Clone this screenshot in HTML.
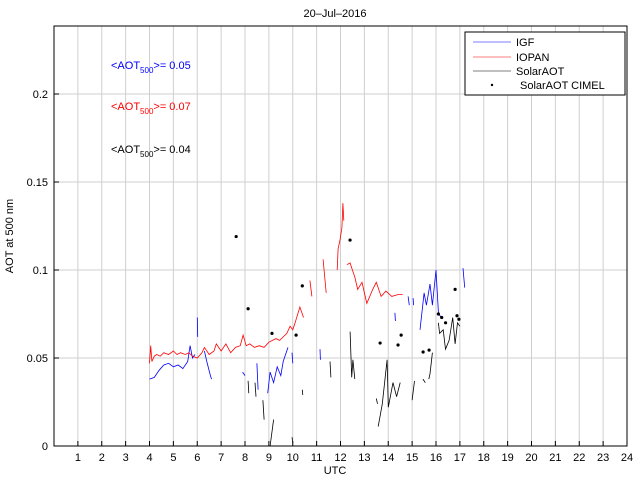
<!DOCTYPE html>
<html><head><meta charset="utf-8"><style>
body{margin:0;background:#fff;}
svg{display:block;font-family:"Liberation Sans",sans-serif;}
</style></head><body>
<svg id="chart" width="640" height="480" viewBox="0 0 640 480" xmlns="http://www.w3.org/2000/svg">
<rect width="640" height="480" fill="#fff"/>
<g id="grid"></g>
<g id="series"></g>
<rect x="54" y="26" width="573" height="420" fill="none" stroke="#000" stroke-width="1"/>
<g id="ticks" font-size="11"></g>
<text x="335" y="17" font-size="11" text-anchor="middle">20–Jul–2016</text>
<text x="335" y="474" font-size="11" text-anchor="middle">UTC</text>
<text transform="translate(13,236) rotate(-90)" font-size="11" text-anchor="middle">AOT at 500 nm</text>
<text x="111" y="69" font-size="11" fill="#0000ff">&lt;AOT<tspan font-size="8" dy="4">500</tspan><tspan dy="-4">&gt;= 0.05</tspan></text>
<text x="111" y="110" font-size="11" fill="#ff0000">&lt;AOT<tspan font-size="8" dy="4">500</tspan><tspan dy="-4">&gt;= 0.07</tspan></text>
<text x="111" y="153" font-size="11" fill="#000">&lt;AOT<tspan font-size="8" dy="4">500</tspan><tspan dy="-4">&gt;= 0.04</tspan></text>
<g>
<rect x="465" y="32" width="160" height="63" fill="#fff" stroke="#000"/>
<line x1="473" y1="42" x2="511" y2="42" stroke="#0000ff" stroke-width="0.6"/>
<text x="516" y="46" font-size="11">IGF</text>
<line x1="473" y1="57" x2="511" y2="57" stroke="#ff0000" stroke-width="0.6"/>
<text x="516" y="61" font-size="11">IOPAN</text>
<line x1="473" y1="71" x2="511" y2="71" stroke="#000" stroke-width="0.6"/>
<text x="516" y="75" font-size="11">SolarAOT</text>
<circle cx="492" cy="85" r="1.2" fill="#000"/>
<text x="520" y="89" font-size="11">SolarAOT CIMEL</text>
</g>
</svg>
<script>
const xTicks=[1,2,3,4,5,6,7,8,9,10,11,12,13,14,15,16,17,18,19,20,21,22,23,24];
const yTicks=[0,0.05,0.1,0.15,0.2];
const yTickLabels=["0","0.05","0.1","0.15","0.2"];
const igfSegments=[
[[4.0,.038],[4.2,.039],[4.4,.043],[4.6,.046],[4.8,.047],[5.0,.045],[5.2,.046],[5.4,.044],[5.6,.048],[5.7,.057],[5.8,.050],[5.9,.052]],
[[6.0,.073],[6.02,.062]],
[[6.3,.054],[6.4,.048],[6.55,.040],[6.6,.038]],
[[7.9,.042],[8.0,.040]],
[[8.5,.047],[8.55,.032]],
[[8.95,.030],[9.05,.042],[9.2,.036],[9.35,.045],[9.5,.040],[9.6,.048],[9.8,.056]],
[[9.97,.053],[10.0,.047]],
[[11.14,.055],[11.16,.049]],
[[14.28,.0756],[14.3,.071]],
[[14.83,.085],[14.88,.080]],
[[15.04,.084],[15.06,.080]],
[[15.33,.066],[15.5,.087],[15.6,.080],[15.75,.092],[15.85,.080],[16.0,.100],[16.1,.076],[16.2,.073]],
[[17.13,.101],[17.2,.090]]
];
const iopanSegments=[
[[4.0,.047],[4.05,.057],[4.1,.048],[4.2,.051],[4.3,.052],[4.45,.051],[4.6,.053],[4.8,.052],[5.0,.054],[5.15,.052],[5.3,.053],[5.5,.052],[5.65,.053],[5.8,.051],[6.0,.050],[6.2,.053],[6.3,.056],[6.5,.052],[6.7,.054],[6.8,.058],[7.0,.054],[7.2,.058],[7.4,.053],[7.6,.056],[7.8,.057],[7.92,.063],[8.05,.057],[8.2,.058],[8.4,.056],[8.6,.057],[8.8,.056],[9.0,.059],[9.15,.060],[9.3,.061],[9.45,.060],[9.6,.062],[9.75,.064],[9.89,.068],[10.0,.066],[10.1,.070],[10.3,.079],[10.45,.073]],
[[10.72,.094],[10.8,.085]],
[[11.27,.106],[11.4,.087]],
[[11.86,.100],[11.9,.112],[11.98,.117],[12.06,.124],[12.1,.138],[12.14,.128]],
[[12.27,.103],[12.4,.104],[12.5,.100],[12.6,.096],[12.72,.089],[12.9,.093],[13.1,.081],[13.35,.089],[13.5,.093],[13.7,.085],[13.9,.088],[14.15,.085],[14.4,.086],[14.6,.086]]
];
const solarSegments=[
[[8.13,.037],[8.16,.030]],
[[8.42,.036],[8.46,.028]],
[[8.75,.026],[8.8,.015]],
[[9.05,.000],[9.2,.015]],
[[9.97,.005],[10.0,.002]],
[[10.4,.032],[10.42,.029]],
[[11.56,.048],[11.6,.039]],
[[12.4,.065],[12.47,.039],[12.52,.049],[12.6,.038]],
[[13.5,.027],[13.55,.024]],
[[13.58,.011],[13.75,.024],[13.95,.049],[14.0,.022],[14.2,.036],[14.35,.028],[14.5,.036]],
[[15.0,.026],[15.1,.037]],
[[15.45,.038],[15.55,.036]],
[[15.7,.038],[15.75,.041],[15.85,.053]],
[[16.1,.070],[16.15,.064],[16.3,.066],[16.4,.055],[16.55,.060],[16.7,.073],[16.8,.058],[16.9,.070],[17.0,.068]]
];
const cimelT=[7.63,8.13,9.13,10.14,10.4,12.4,13.66,14.41,14.54,15.46,15.71,16.1,16.24,16.4,16.8,16.88,16.96];
const cimelV=[.119,.078,.064,.063,.091,.117,.0585,.0574,.063,.0534,.0545,.075,.073,.070,.089,.074,.072];

const X0=54,X1=627,Y0=446,Y1=26,TMAX=24,PXPERUNIT=1760;
function xs(t){return X0+(X1-X0)*t/TMAX;}
function ys(v){return Y0-PXPERUNIT*v;}
const NS="http://www.w3.org/2000/svg";
function mk(tag,attrs,parent){const e=document.createElementNS(NS,tag);for(const k in attrs)e.setAttribute(k,attrs[k]);parent.appendChild(e);return e;}
const grid=document.getElementById('grid'),ticks=document.getElementById('ticks'),series=document.getElementById('series');
xTicks.forEach(t=>{
  const g=mk('line',{x1:xs(t),x2:xs(t),y1:Y1,y2:Y0,stroke:'#cfcfcf','stroke-width':1},grid);
  
  
  const tk=mk('line',{x1:xs(t),x2:xs(t),y1:Y0,y2:Y0-5,stroke:'#000'},ticks);
  
  
  const lb=mk('text',{x:xs(t),y:Y0+15,'text-anchor':'middle'},ticks);
  lb.textContent=String(t);
  
  
});
yTicks.forEach((v,i)=>{
  const g=mk('line',{x1:X0,x2:X1,y1:ys(v),y2:ys(v),stroke:'#cfcfcf','stroke-width':1},grid);
  
  
  const tk=mk('line',{x1:X0,x2:X0+5,y1:ys(v),y2:ys(v),stroke:'#000'},ticks);
  
  
  const lb=mk('text',{x:X0-6,y:ys(v)+4,'text-anchor':'end'},ticks);
  lb.textContent=yTickLabels[i];
  
  
});
function drawSegs(segs,color,name){
  segs.forEach(seg=>{
    const p=mk('polyline',{points:seg.map(d=>xs(d[0]).toFixed(1)+','+ys(d[1]).toFixed(1)).join(' '),fill:'none',stroke:color,'stroke-width':0.8},series);
    
    
  });
}
drawSegs(igfSegments,'#0000ff','igf-line');
drawSegs(iopanSegments,'#ff0000','iopan-line');
drawSegs(solarSegments,'#000000','solaraot-line');
cimelT.forEach((t,i)=>{
  const c=mk('circle',{cx:xs(t),cy:ys(cimelV[i]),r:1.6,fill:'#000'},series);
  
  
});
</script>
</body></html>
